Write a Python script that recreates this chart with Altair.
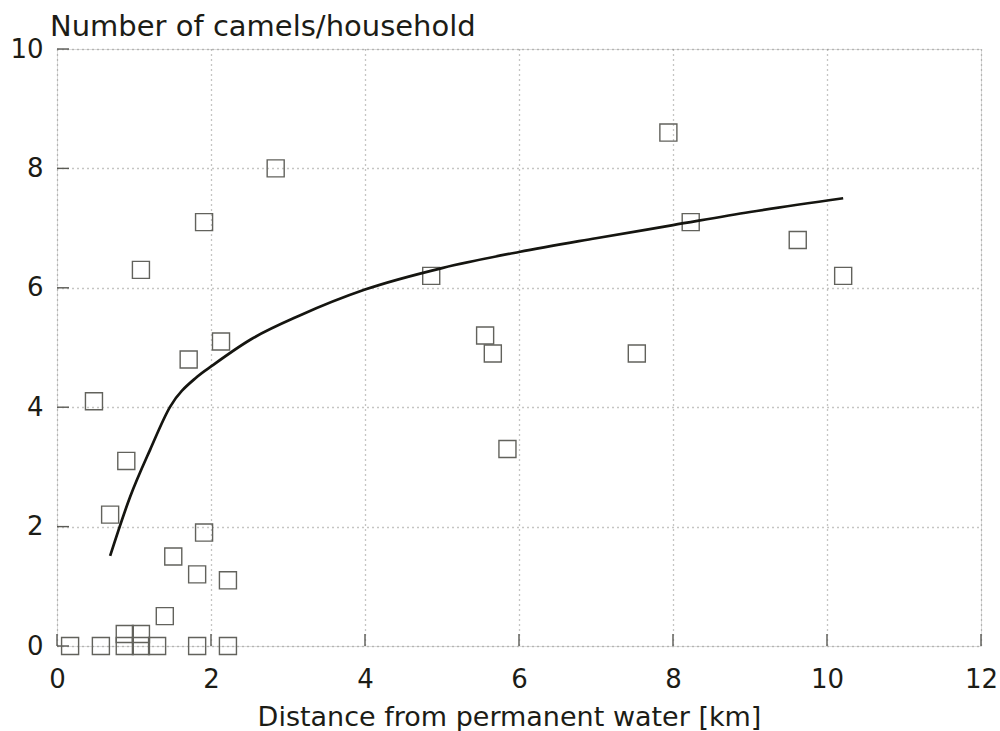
import altair as alt
import pandas as pd

# Household survey: distance to permanent water vs camels per household
distance_km = [0.17, 0.57, 0.88, 1.09, 1.30, 1.82, 2.22, 0.88, 1.09,
               1.40, 1.51, 1.82, 2.22, 1.91, 0.69, 0.90, 0.48, 1.71, 2.13, 1.09,
               1.91, 2.84, 4.86, 5.56, 5.66, 5.85, 7.53, 7.94, 8.23, 9.62, 10.21]
camels = [0.0, 0.0, 0.0, 0.0, 0.0, 0.0, 0.0, 0.2, 0.2,
          0.5, 1.5, 1.2, 1.1, 1.9, 2.2, 3.1, 4.1, 4.8, 5.1, 6.3,
          7.1, 8.0, 6.2, 5.2, 4.9, 3.3, 4.9, 8.6, 7.1, 6.8, 6.2]

# Fitted trend curve
fit_x = [0.69, 0.95, 1.21, 1.47, 1.82, 2.03, 2.51, 3.16, 4.0, 5.0, 6.0, 7.0, 8.0, 9.0, 10.21]
fit_y = [1.51, 2.50, 3.29, 4.01, 4.51, 4.71, 5.13, 5.54, 5.97, 6.33, 6.60, 6.83, 7.05, 7.27, 7.50]

x_ticks = [0, 2, 4, 6, 8, 10, 12]
y_ticks = [0, 2, 4, 6, 8, 10]

points = pd.DataFrame({"dist": distance_km, "camels": camels})
fit = pd.DataFrame({"dist": fit_x, "camels": fit_y})
xt = pd.DataFrame({"v": x_ticks})
yt = pd.DataFrame({"v": y_ticks})

FONT = "DejaVu Sans"
INK = "#1c1c16"
W, H = 924, 597

x_scale = alt.Scale(domain=[0, 12], nice=False, zero=False)
y_scale = alt.Scale(domain=[0, 10], nice=False, zero=False)

grid_style = dict(grid=True, gridColor="#8c8c88", gridDash=[1, 4], gridWidth=1.3)

x_axis = alt.Axis(values=x_ticks, format="d", title="Distance from permanent water [km]",
                  tickSize=0, domain=False, labelPadding=20, labelFontSize=26,
                  labelColor=INK, labelFont=FONT, labelFlush=False,
                  titleFontSize=27, titleColor=INK, titleFont=FONT,
                  titleFontWeight="normal", titleX=452, titleY=79,
                  titleBaseline="alphabetic", titleAlign="center", **grid_style)
y_axis = alt.Axis(values=y_ticks, format="d", title=None, tickSize=0, domain=False,
                  labelPadding=14, labelFontSize=26, labelColor=INK,
                  labelFont=FONT, labelFlush=False, **grid_style)

scatter = alt.Chart(points).mark_point(
    shape="square", filled=False, size=290, color="#62625c", strokeWidth=1.4, opacity=1
).encode(
    x=alt.X("dist:Q", scale=x_scale, axis=x_axis),
    y=alt.Y("camels:Q", scale=y_scale, axis=y_axis),
)

curve = alt.Chart(fit).mark_line(
    color="#151510", strokeWidth=2.7, interpolate="monotone"
).encode(x=alt.X("dist:Q", scale=x_scale), y=alt.Y("camels:Q", scale=y_scale))

# Short inward tick marks along the bottom and left edges
x_tick_marks = alt.Chart(xt).mark_rule(color="#5a5a55", strokeWidth=1.4).encode(
    x=alt.X("v:Q", scale=x_scale), y=alt.value(H), y2=alt.value(H - 12)
)
y_tick_marks = alt.Chart(yt).mark_rule(color="#5a5a55", strokeWidth=1.4).encode(
    y=alt.Y("v:Q", scale=y_scale), x=alt.value(0), x2=alt.value(12)
)

chart = alt.layer(x_tick_marks, y_tick_marks, scatter, curve).properties(
    width=W, height=H,
    padding={"left": 57, "top": 49, "right": 19, "bottom": 85},
    autosize=alt.AutoSizeParams(type="none"),
    title=alt.TitleParams(
        "Number of camels/household", anchor="start", frame="group",
        fontSize=29, font=FONT, fontWeight="normal", color=INK,
        offset=0, dx=-7, dy=29, baseline="alphabetic"
    ),
).configure_view(
    stroke="#6e6e6a", strokeWidth=1.5
).configure(background="white")

chart.save("out.html", embed_options={"renderer": "svg", "actions": False})
